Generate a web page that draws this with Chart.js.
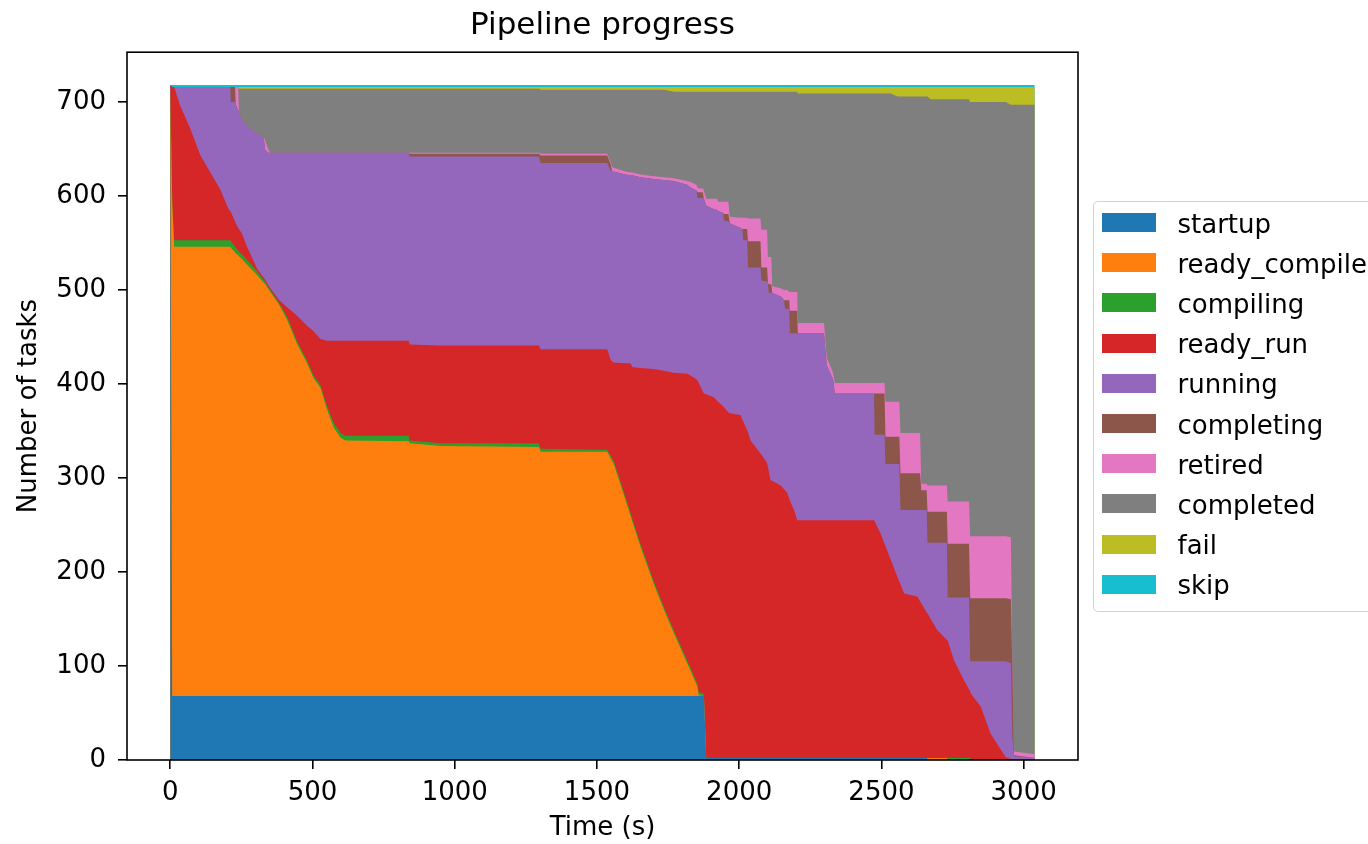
<!DOCTYPE html>
<html>
<head>
<meta charset="utf-8">
<title>Pipeline progress</title>
<script src="https://cdn.jsdelivr.net/npm/chart.js@4.4.1/dist/chart.umd.min.js"></script>
<style>
html,body{margin:0;padding:0;background:#fff;overflow:hidden;width:1368px;height:844px;}
#wrap{position:relative;width:1368px;height:844px;overflow:hidden;}
#chart{position:absolute;left:0;top:0;}
#legend{position:absolute;left:1093px;top:201px;width:330px;height:411px;border:1.5px solid #d3d3d3;border-radius:5px;background:rgba(255,255,255,0.8);box-sizing:border-box;font-family:'DejaVu Sans';font-size:26px;color:#000;}
.sw{position:absolute;width:54px;height:19px;}
.lb{position:absolute;white-space:nowrap;line-height:30px;height:30px;}
</style>
</head>
<body>
<div id="wrap">
<canvas id="chart" width="1368" height="844"></canvas>
<div id="legend"></div>
</div>
<script>
// ---- data ----
const times = [0,7,14,35,70,105,141,176,205,211,
213,228,230,239,241,252,270,305,328,334,
345,352,381,410,445,481,504,528,551,574,
598,615,838,842,950,1296,1302,1536,1548,1553,
1559,1600,1618,1624,1653,1700,1735,1770,1817,1829,
1850,1853,1858,1872,1876,1884,1911,1923,1926,1944,
1946,1962,1967,2005,2011,2014,2028,2031,2040,2075,
2078,2098,2101,2104,2110,2113,2116,2146,2158,2161,
2169,2176,2178,2193,2204,2206,2298,2308,2330,2336,
2474,2476,2497,2511,2514,2533,2556,2563,2567,2580,
2626,2636,2640,2659,2662,2673,2697,2730,2733,2755,
2790,2808,2812,2816,2849,2884,2920,2937,2955,2960,
2966,3039];

const startup = [718,68,68,68,68,68,68,68,68,68,
68,68,68,68,68,68,68,68,68,68,
68,68,68,68,68,68,68,68,68,68,
68,68,68,68,68,68,68,68,68,68,
68,68,68,68,68,68,68,68,68,68,
68,68,68,68,68,2,2,2,2,2,
2,2,2,2,2,2,2,2,2,2,
2,2,2,2,2,2,2,2,2,2,
2,2,2,2,2,2,2,2,2,2,
2,2,2,2,2,2,2,2,2,2,
2,2,2,2,0,0,0,0,0,0,
0,0,0,0,0,0,0,0,0,0,
0,0];

const readyCompile = [0,525,478,478,478,478,478,478,478,478,
477,472,471,469,468,465,459,448,440,438,
433,430,417,401,375,354,338,328,305,286,
275,272,271,269,266,265,260,260,253,250,
247,209,192,186,159,119,92,67,35,27,
12,10,1,0,0,0,0,0,0,0,
0,0,0,0,0,0,0,0,0,0,
0,0,0,0,0,0,0,0,0,0,
0,0,0,0,0,0,0,0,0,0,
0,0,0,0,0,0,0,0,0,0,
0,0,0,0,2,2,2,2,0,0,
0,0,0,0,0,0,0,0,0,0,
0,0];

const compiling = [0,0,7,7,7,7,7,7,7,7,
7,6,6,5,5,5,5,4,3,3,
2,2,2,3,3,3,3,3,4,5,
5,5,6,3,3,4,3,2,3,3,
3,3,3,3,3,3,3,3,3,3,
3,3,3,3,2,0,0,0,0,0,
0,0,0,0,0,0,0,0,0,0,
0,0,0,0,0,0,0,0,0,0,
0,0,0,0,0,0,0,0,0,0,
0,0,0,0,0,0,0,0,0,0,
0,0,0,0,0,0,0,0,2,2,
2,2,2,0,0,0,0,0,0,0,
0,0];

const readyRun = [0,123,163,143,119,91,72,54,33,31,
31,27,26,24,24,22,14,3,2,2,
2,2,3,10,27,37,47,49,69,87,
98,101,101,102,104,104,106,107,102,103,
105,142,159,161,187,226,251,274,305,311,
322,323,329,321,320,387,384,380,379,374,
374,368,367,365,360,358,349,347,338,324,
323,314,310,305,296,295,295,290,286,285,
282,276,274,264,253,253,253,253,253,253,
253,252,239,228,226,211,193,188,185,175,
172,167,165,155,154,148,136,126,125,104,
83,73,71,70,57,28,11,3,1,0,
0,0];

const running = [0,0,0,20,44,72,91,109,130,132,
117,127,127,125,125,121,128,143,150,138,
141,144,156,164,173,184,190,198,200,200,
200,200,200,200,201,201,198,198,201,203,
203,201,200,204,203,202,203,204,201,200,
201,194,197,206,207,201,200,203,203,206,
198,203,202,199,203,193,202,175,184,198,
185,193,196,190,199,200,200,201,201,193,
196,202,178,188,199,199,199,165,150,135,
135,92,105,116,87,102,120,125,79,89,
92,97,99,109,75,81,93,103,46,67,
88,98,32,35,48,77,94,102,102,25,
4,2];

const completing = [0,0,0,0,0,0,0,0,0,0,
16,16,0,0,0,0,0,0,0,0,
0,0,0,0,0,0,0,0,0,0,
0,0,0,3,3,3,8,8,7,0,
0,0,0,0,0,0,0,0,0,0,
0,6,6,6,0,0,0,0,0,0,
7,8,0,0,0,12,12,28,28,28,
14,15,0,9,9,9,0,0,0,9,
9,9,24,24,24,0,0,0,0,0,
0,44,44,44,29,29,29,29,39,39,
39,39,21,21,33,33,33,33,57,57,
57,57,67,67,67,67,67,67,68,78,
1,0];

const retired = [0,0,0,0,0,0,0,0,0,0,
0,0,18,25,0,0,0,0,0,10,
3,0,0,0,0,0,0,0,0,0,
0,0,0,1,1,1,2,2,2,4,
4,3,3,3,3,3,3,3,4,6,
6,5,4,4,9,7,11,12,10,12,
13,13,7,11,12,12,12,24,24,24,
40,40,27,29,29,29,7,9,11,11,
11,9,20,20,20,11,11,8,7,11,
11,11,11,11,37,37,37,37,43,43,
43,43,7,7,28,28,28,28,45,45,
45,45,66,66,66,66,66,66,66,3,
4,4];

const completed = [0,0,0,0,0,0,0,0,0,0,
0,0,0,0,24,33,40,48,51,55,
65,68,68,68,68,68,68,68,68,68,
68,68,68,68,68,68,68,68,77,82,
83,87,88,88,90,92,93,92,95,96,
99,102,103,103,105,114,114,114,117,117,
117,117,133,134,134,134,134,135,135,135,
147,147,176,176,176,176,207,209,211,211,
211,213,213,213,213,244,244,281,297,308,
308,308,308,308,328,328,325,325,358,358,
358,358,412,412,414,411,411,411,428,428,
428,428,462,462,462,462,462,462,460,591,
688,691];

const fail = [0,0,0,0,0,0,0,0,0,0,
0,0,0,0,2,2,2,2,2,2,
2,2,2,2,2,2,2,2,2,2,
2,2,2,2,2,2,3,3,3,3,
3,3,3,3,3,3,3,5,5,5,
5,5,5,5,5,5,5,5,5,5,
5,5,5,5,5,5,5,5,5,5,
5,5,5,5,5,5,5,5,5,5,
5,5,5,5,5,7,7,7,7,7,
7,7,7,7,7,7,10,10,10,10,
10,10,10,10,10,13,13,13,13,13,
13,13,16,16,16,16,16,16,19,19,
19,19];

const skip = [0,2,2,2,2,2,2,2,2,2,
2,2,2,2,2,2,2,2,2,2,
2,2,2,2,2,2,2,2,2,2,
2,2,2,2,2,2,2,2,2,2,
2,2,2,2,2,2,2,2,2,2,
2,2,2,2,2,2,2,2,2,2,
2,2,2,2,2,2,2,2,2,2,
2,2,2,2,2,2,2,2,2,2,
2,2,2,2,2,2,2,2,2,2,
2,2,2,2,2,2,2,2,2,2,
2,2,2,2,2,2,2,2,2,2,
2,2,2,2,2,2,2,2,2,2,
2,2];

const seriesNames = ['startup','ready_compile','compiling','ready_run','running','completing','retired','completed','fail','skip'];
const xTicks = [0,500,1000,1500,2000,2500,3000];
const yTicks = [0,100,200,300,400,500,600,700];

// ---- styling ----
const colors = ['#1f77b4','#ff7f0e','#2ca02c','#d62728','#9467bd','#8c564b','#e377c2','#7f7f7f','#bcbd22','#17becf'];
const FONT = 'DejaVu Sans';
Chart.defaults.font.family = FONT;
Chart.defaults.color = '#000';

const seriesValues = [startup, readyCompile, compiling, readyRun, running, completing, retired, completed, fail, skip];

const datasets = seriesValues.map((vals, i) => ({
  label: seriesNames[i],
  data: times.map((t, j) => ({x: t, y: vals[j]})),
  backgroundColor: colors[i],
  borderColor: 'rgba(0,0,0,0)',
  borderWidth: 0,
  pointRadius: 0,
  pointHoverRadius: 0,
  tension: 0,
  fill: 'origin'
}));

const spines = {
  id: 'spines',
  afterDatasetsDraw(chart) {
    const {ctx, chartArea: {left, top, right, bottom}} = chart;
    ctx.save();
    ctx.strokeStyle = '#000';
    ctx.lineWidth = 1.6;
    ctx.strokeRect(left, top, right - left, bottom - top);
    ctx.restore();
  }
};

new Chart(document.getElementById('chart'), {
  type: 'line',
  data: {datasets},
  plugins: [spines],
  options: {
    responsive: false,
    animation: false,
    devicePixelRatio: 1,
    events: [],
    layout: {padding: {left: 0, right: 290, top: 0, bottom: 0}},
    plugins: {
      legend: {display: false},
      tooltip: {enabled: false},
      title: {
        display: true,
        text: 'Pipeline progress',
        fullSize: false,
        color: '#000',
        font: {family: FONT, size: 31, weight: 'normal', lineHeight: 1.2},
        padding: {top: 7, bottom: 8}
      }
    },
    scales: {
      x: {
        type: 'linear',
        min: -152,
        max: 3191,
        afterFit(s) { s.height = 84; },
        afterBuildTicks(s) { s.ticks = xTicks.map(v => ({value: v})); },
        grid: {display: true, drawOnChartArea: false, drawTicks: true, tickLength: 9, color: '#000', lineWidth: 1.6},
        border: {display: false},
        ticks: {color: '#000', font: {family: FONT, size: 26}, padding: 9, maxRotation: 0, autoSkip: false,
                callback: v => String(v)},
        title: {display: true, text: 'Time (s)', color: '#000', font: {family: FONT, size: 26, lineHeight: 1.2}, padding: {top: 0, bottom: 0}}
      },
      y: {
        type: 'linear',
        stacked: true,
        min: 0,
        max: 753,
        afterFit(s) { s.width = 127; },
        afterBuildTicks(s) { s.ticks = yTicks.map(v => ({value: v})); },
        grid: {display: true, drawOnChartArea: false, drawTicks: true, tickLength: 9, color: '#000', lineWidth: 1.6},
        border: {display: false},
        ticks: {color: '#000', font: {family: FONT, size: 26}, padding: 12, autoSkip: false,
                callback: v => String(v)},
        title: {display: true, text: 'Number of tasks', color: '#000', font: {family: FONT, size: 26, lineHeight: 1.2}, padding: {top: 14, bottom: 0}}
      }
    }
  }
});

// ---- legend (HTML, matplotlib style) ----
const legend = document.getElementById('legend');
seriesNames.forEach((name, i) => {
  const yc = 223 + 40.2 * i - 201 - 1.5;
  const sw = document.createElement('div');
  sw.className = 'sw';
  sw.style.left = '7.5px';
  sw.style.top = (yc - 9.5) + 'px';
  sw.style.background = colors[i];
  legend.appendChild(sw);
  const lb = document.createElement('div');
  lb.className = 'lb';
  lb.style.left = '83.5px';
  lb.style.top = (yc - 14) + 'px';
  lb.textContent = name;
  legend.appendChild(lb);
});
</script>
</body>
</html>
